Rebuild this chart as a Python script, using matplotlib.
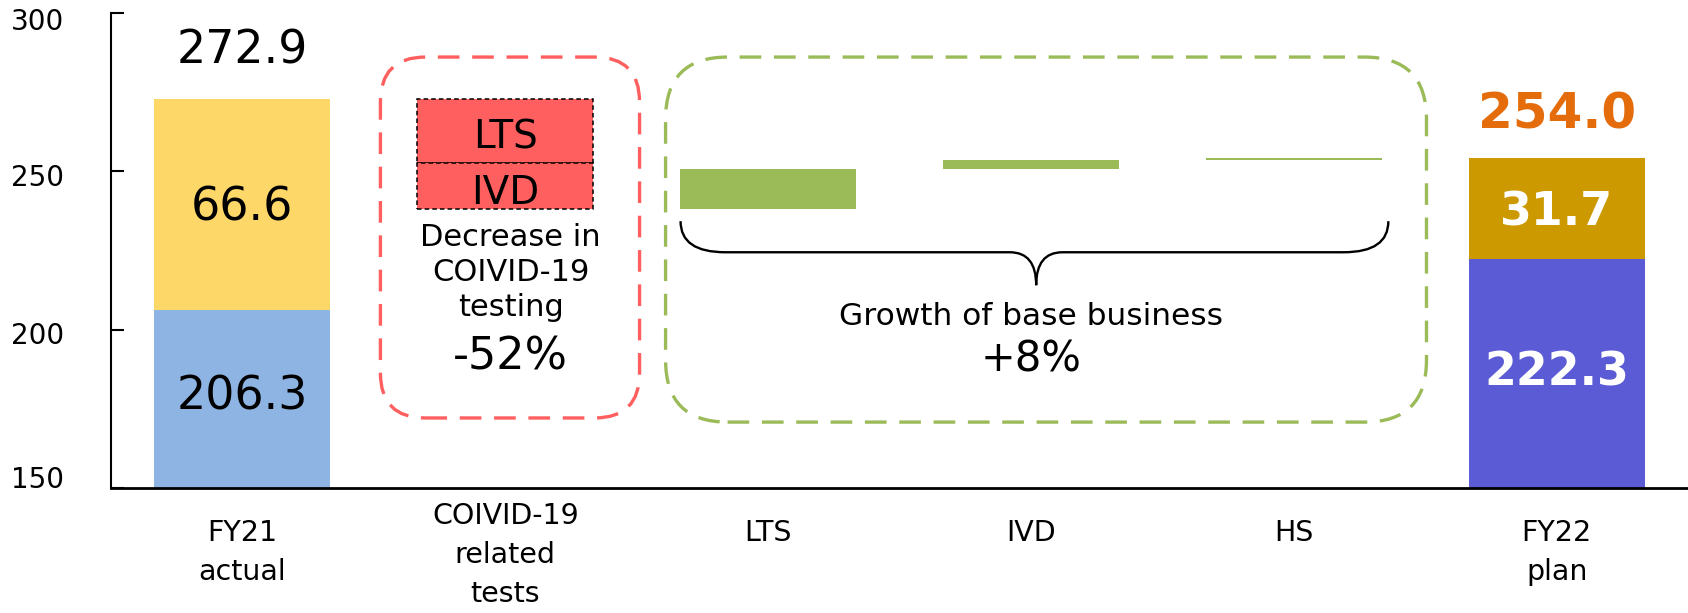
import numpy as np
import matplotlib
matplotlib.use("Agg")
import matplotlib.pyplot as plt
from matplotlib.patches import FancyBboxPatch, PathPatch
from matplotlib.path import Path

# --- data ---
categories = ["FY21\nactual", "COIVID-19\nrelated\ntests", "LTS", "IVD", "HS", "FY22\nplan"]
fy21_base = 206.3
fy21_covid = 66.6
covid_drop_labels = ["LTS", "IVD"]
covid_drop = [20.3, 14.6]
growth_labels = ["LTS", "IVD", "HS"]
growth = [12.6, 2.9, 0.5]
fy22_base = 222.3
fy22_covid = 31.7
yticks = [150, 200, 250, 300]

# colours
c_base21 = "#8EB4E3"
c_covid21 = "#FDD767"
c_drop = "#FF5F5F"
c_growth = "#9BBB59"
c_base22 = "#5A5BD5"
c_covid22 = "#CC9900"
c_total22 = "#E46C0A"

W, H = 1688, 613
fig = plt.figure(figsize=(W / 100, H / 100), dpi=100)
ax = fig.add_axes([111 / W, 125 / H, 1 - 111 / W, 475.3 / H])
ax.set_xlim(-0.5, 5.5)
ax.set_ylim(150, 300)

x = np.arange(len(categories))
bw = 0.67

# FY21 actual
fy21_total = fy21_base + fy21_covid
ax.bar(x[0], fy21_base, bw, color=c_base21)
ax.bar(x[0], fy21_covid, bw, bottom=fy21_base, color=c_covid21)
ax.text(x[0], fy21_total + 15, f"{fy21_total:.1f}", ha="center", va="center", fontsize=33)
ax.text(x[0], (fy21_base + fy21_total) / 2 - 1.2, f"{fy21_covid:.1f}", ha="center", va="center", fontsize=33)
ax.text(x[0], (150 + fy21_base) / 2 + 0.5, f"{fy21_base:.1f}", ha="center", va="center", fontsize=33)

# decrease in covid testing, stacked downwards from the FY21 total
level = fy21_total
for lab, d in zip(covid_drop_labels, covid_drop):
    ax.bar(x[1], d, bw, bottom=level - d, color=c_drop, edgecolor="black",
           linewidth=1.1, linestyle=(0, (3, 2)))
    ax.text(x[1], level - d / 2 - 2.2, lab, ha="center", va="center", fontsize=28)
    level -= d

# growth of base business
for i, g in enumerate(growth):
    ax.bar(x[2 + i], g, bw, bottom=level, color=c_growth)
    level += g

# FY22 plan
fy22_total = fy22_base + fy22_covid
ax.bar(x[5], fy22_base, bw, color=c_base22)
ax.bar(x[5], fy22_covid, bw, bottom=fy22_base, color=c_covid22)
ax.text(x[5], fy22_total + 14, f"{fy22_total:.1f}", ha="center", va="center",
        fontsize=36, fontweight="bold", color=c_total22)
ax.text(x[5], (fy22_base + fy22_total) / 2 - 1.5, f"{fy22_covid:.1f}", ha="center", va="center",
        fontsize=33, fontweight="bold", color="white")
ax.text(x[5], (150 + fy22_base) / 2, f"{fy22_base:.1f}", ha="center", va="center",
        fontsize=33, fontweight="bold", color="white")

# axes styling
for s in ["top", "right"]:
    ax.spines[s].set_visible(False)
ax.spines["left"].set_linewidth(1.5)
ax.spines["bottom"].set_linewidth(2)
ax.set_yticks(yticks)
ax.set_yticklabels([])
ax.tick_params(axis="y", direction="in", length=9, width=1.5)
ax.set_xticks(x)
ax.set_xticklabels([])
ax.tick_params(axis="x", length=0)

# y labels sit a little below their ticks, the lowest one slightly above
label_shift = {150: 2.5, 200: -2.0, 250: -2.2, 300: -3.0}
for t in yticks:
    ax.text(-0.03, t + label_shift[t], str(t), transform=ax.get_yaxis_transform(),
            ha="right", va="center", fontsize=20, clip_on=False)

# category labels under the axis
for xi, lab in zip(x, categories):
    ytop = -0.03 if lab.count("\n") == 2 else -0.066
    ax.text(xi, ytop, lab, transform=ax.get_xaxis_transform(), ha="center", va="top",
            fontsize=20.5, linespacing=1.5)

# rounded dashed frames (circular corners in screen space)
fig.canvas.draw()
bb = ax.get_window_extent()
px_x = bb.width / 6.0
px_y = bb.height / 150.0
aspect = px_x / px_y


def rounded_frame(x0, x1, y0, y1, radius_px, color):
    p = FancyBboxPatch((x0, y0), x1 - x0, y1 - y0,
                       boxstyle=f"round,pad=0,rounding_size={radius_px / px_x}",
                       mutation_aspect=aspect, fill=False, edgecolor=color,
                       linewidth=2.4, linestyle=(0, (6.5, 3.8)), clip_on=False)
    ax.add_patch(p)


rounded_frame(0.525, 1.511, 172.1, 286.0, 45, c_drop)
rounded_frame(1.61, 4.505, 170.8, 286.0, 62, c_growth)

ax.text(1.02, 218, "Decrease in\nCOIVID-19\ntesting", ha="center", va="center",
        fontsize=22, linespacing=1.25)
ax.text(1.02, 191.5, "-52%", ha="center", va="center", fontsize=32)

# brace under the growth bars
xl, xr, xc = 1.667, 4.36, 3.02
ytop, ymid, ytip = 234.2, 224.4, 214.0
dx, dxc = 0.17, 0.1
verts = [(xl, ytop), (xl, ymid), (xl + dx, ymid),
         (xc - dxc, ymid),
         (xc, ymid), (xc, ytip),
         (xc, ymid), (xc + dxc, ymid),
         (xr - dx, ymid),
         (xr, ymid), (xr, ytop)]
codes = [Path.MOVETO, Path.CURVE3, Path.CURVE3,
         Path.LINETO,
         Path.CURVE3, Path.CURVE3,
         Path.CURVE3, Path.CURVE3,
         Path.LINETO,
         Path.CURVE3, Path.CURVE3]
ax.add_patch(PathPatch(Path(verts, codes), fill=False, edgecolor="black", linewidth=1.7))

ax.text(3.0, 204.0, "Growth of base business", ha="center", va="center", fontsize=22.5)
ax.text(3.0, 190.5, "+8%", ha="center", va="center", fontsize=30)

fig.savefig("out.png", dpi=100)
